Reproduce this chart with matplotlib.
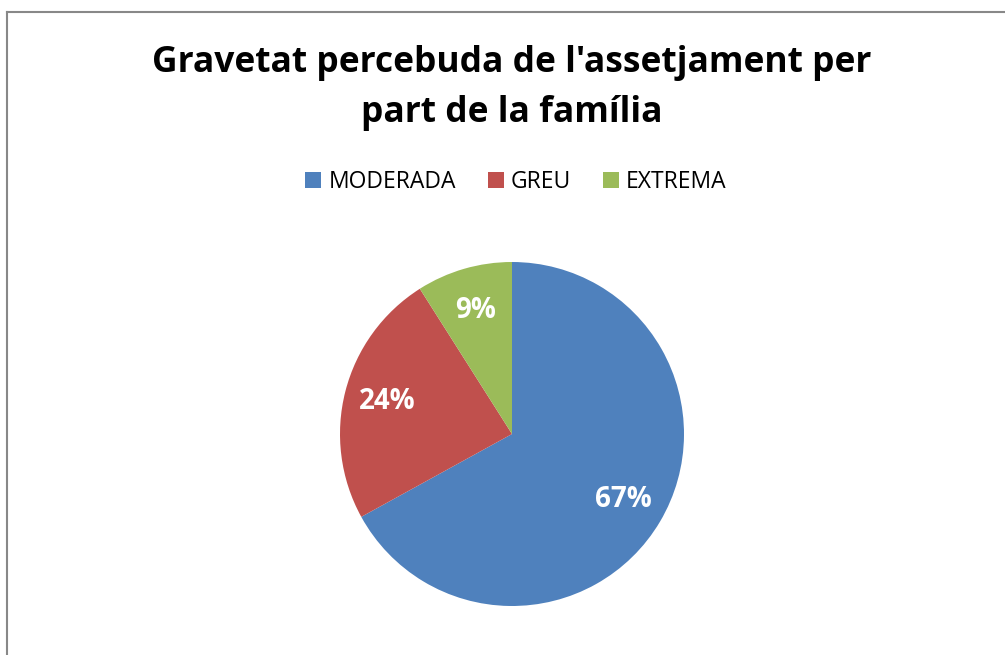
import numpy as np
from matplotlib import pyplot as plt
from matplotlib.patches import Patch
from matplotlib.lines import Line2D

# data
categories = ["MODERADA", "GREU", "EXTREMA"]
values = [67, 24, 9]
colors = ["#4F81BD", "#C0504D", "#9BBB59"]
title = "Gravetat percebuda de l'assetjament per\npart de la família"

plt.rcParams['font.family'] = ['Open Sans', 'DejaVu Sans']

W, H = 1005, 655
fig = plt.figure(figsize=(W / 100, H / 100), dpi=100)

# chart border (left and top edges visible)
fig.add_artist(Line2D([6.5 / W, 6.5 / W], [0, 1 - 12 / H], color="#888888", lw=1.5))
fig.add_artist(Line2D([6.5 / W, 1], [1 - 12 / H, 1 - 12 / H], color="#888888", lw=1.5))

# pie
cx, cy, r = 512, 434, 172
ax = fig.add_axes([(cx - r) / W, (H - cy - r) / H, 2 * r / W, 2 * r / H])
wedges, texts, autotexts = ax.pie(values, colors=colors, startangle=90, counterclock=False,
                                  autopct=lambda p: "%d%%" % round(p), pctdistance=0.75,
                                  wedgeprops=dict(linewidth=0))
for t in autotexts:
    t.set_color("white")
    t.set_fontweight("bold")
    t.set_fontsize(20)
ax.set_xlim(-1, 1)
ax.set_ylim(-1, 1)
ax.set_aspect("equal")
ax.axis("off")

# title
fig.text(512 / W, 1 - 88 / H, title, ha="center", va="center", fontsize=25.5,
         fontweight="bold", linespacing=1.5)

# legend
handles = [Patch(facecolor=c, edgecolor="none") for c in colors]
fig.legend(handles, categories, loc="center", bbox_to_anchor=(516 / W, 1 - 182 / H), ncol=3,
           frameon=False, fontsize=16.5, handlelength=0.7, handleheight=0.7,
           handletextpad=0.3, columnspacing=1.4)

fig.savefig("out.png", dpi=100)
